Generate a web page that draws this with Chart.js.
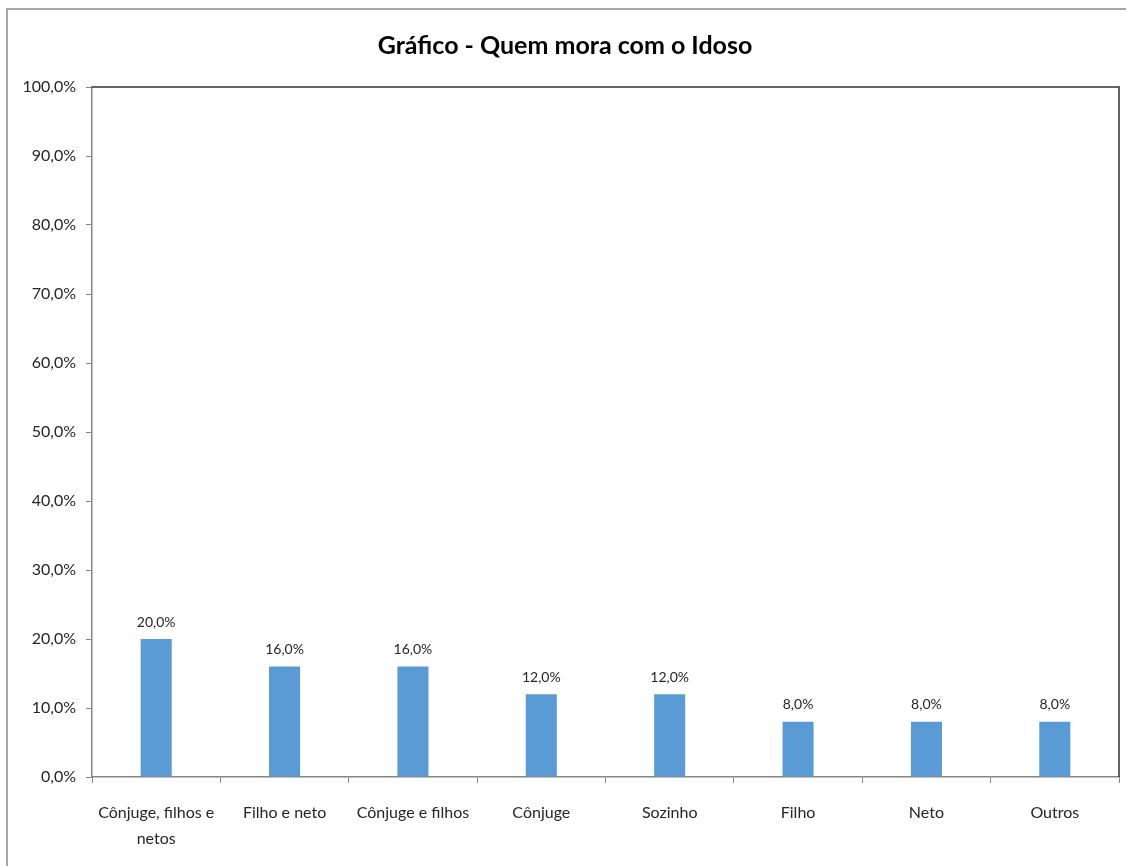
<!DOCTYPE html>
<html>
<head>
<meta charset="utf-8">
<script src="https://cdn.jsdelivr.net/npm/chart.js@4/dist/chart.umd.min.js"></script>
<style>
html,body{margin:0;padding:0;background:#fff;}
#wrap{width:1126px;height:866px;position:relative;}
</style>
</head>
<body>
<div id="wrap"><canvas id="c" width="1126" height="866"></canvas></div>
<script>
const titleText = "Gráfico - Quem mora com o Idoso";
const categories = [["Cônjuge, filhos e","netos"], "Filho e neto", "Cônjuge e filhos", "Cônjuge", "Sozinho", "Filho", "Neto", "Outros"];
const values = [20.0, 16.0, 16.0, 12.0, 12.0, 8.0, 8.0, 8.0];
const yTicks = [0, 10, 20, 30, 40, 50, 60, 70, 80, 90, 100];

const FONT = "Lato, 'Open Sans', sans-serif";
const fmt = v => v.toFixed(1).replace('.', ',') + '%';

const framePlugin = {
  id: 'frame',
  beforeDraw(chart) {
    const ctx = chart.ctx;
    ctx.save();
    ctx.fillStyle = '#fff';
    ctx.fillRect(0, 0, chart.width, chart.height);
    ctx.strokeStyle = '#a6a6a6';
    ctx.lineWidth = 2;
    ctx.beginPath();
    ctx.moveTo(7, chart.height);
    ctx.lineTo(7, 9);
    ctx.lineTo(chart.width, 9);
    ctx.stroke();
    ctx.restore();
  },
  afterDraw(chart) {
    const a = chart.chartArea;
    const ctx = chart.ctx;
    ctx.save();
    ctx.strokeStyle = '#333';
    ctx.lineWidth = 1.5;
    ctx.beginPath();
    ctx.moveTo(a.left, a.top);
    ctx.lineTo(a.right, a.top);
    ctx.lineTo(a.right, a.bottom);
    ctx.stroke();
    ctx.restore();
  }
};

const labelPlugin = {
  id: 'barLabels',
  afterDatasetsDraw(chart) {
    const ctx = chart.ctx;
    const meta = chart.getDatasetMeta(0);
    ctx.save();
    ctx.font = "14px " + FONT;
    ctx.fillStyle = '#262626';
    ctx.textAlign = 'center';
    ctx.textBaseline = 'bottom';
    meta.data.forEach((el, i) => {
      ctx.fillText(fmt(values[i]), el.x, el.y - 10);
    });
    ctx.restore();
  }
};

new Chart(document.getElementById('c'), {
  type: 'bar',
  data: {
    labels: categories,
    datasets: [{
      data: values,
      backgroundColor: '#5b9bd5',
      borderWidth: 0,
      categoryPercentage: 1,
      barPercentage: 0.242
    }]
  },
  options: {
    responsive: false,
    animation: false,
    layout: { padding: { left: 11, right: 7, top: 0, bottom: 0 } },
    plugins: {
      legend: { display: false },
      tooltip: { enabled: false },
      title: {
        display: true,
        text: titleText,
        color: '#000',
        font: { family: FONT, size: 25, weight: 'bold', lineHeight: 1.2 },
        padding: { top: 31, bottom: 26 }
      }
    },
    scales: {
      x: {
        grid: { display: true, drawOnChartArea: false, drawTicks: true, tickLength: 6, color: '#868686', offset: true },
        border: { display: true, color: '#868686', width: 1.5 },
        ticks: { color: '#262626', font: { family: FONT, size: 16, lineHeight: 1.6 }, padding: 17, maxRotation: 0, autoSkip: false },
        afterFit(s) { s.height = 89; }
      },
      y: {
        min: 0, max: 100,
        afterBuildTicks(s) { s.ticks = yTicks.map(v => ({ value: v })); },
        grid: { display: true, drawOnChartArea: false, drawTicks: true, tickLength: 6, color: '#868686' },
        border: { display: true, color: '#868686', width: 1.5 },
        ticks: { color: '#262626', font: { family: FONT, size: 16 }, padding: 10, callback: v => fmt(v) },
        afterFit(s) { s.width = 81; }
      }
    }
  },
  plugins: [framePlugin, labelPlugin]
});
</script>
</body>
</html>
